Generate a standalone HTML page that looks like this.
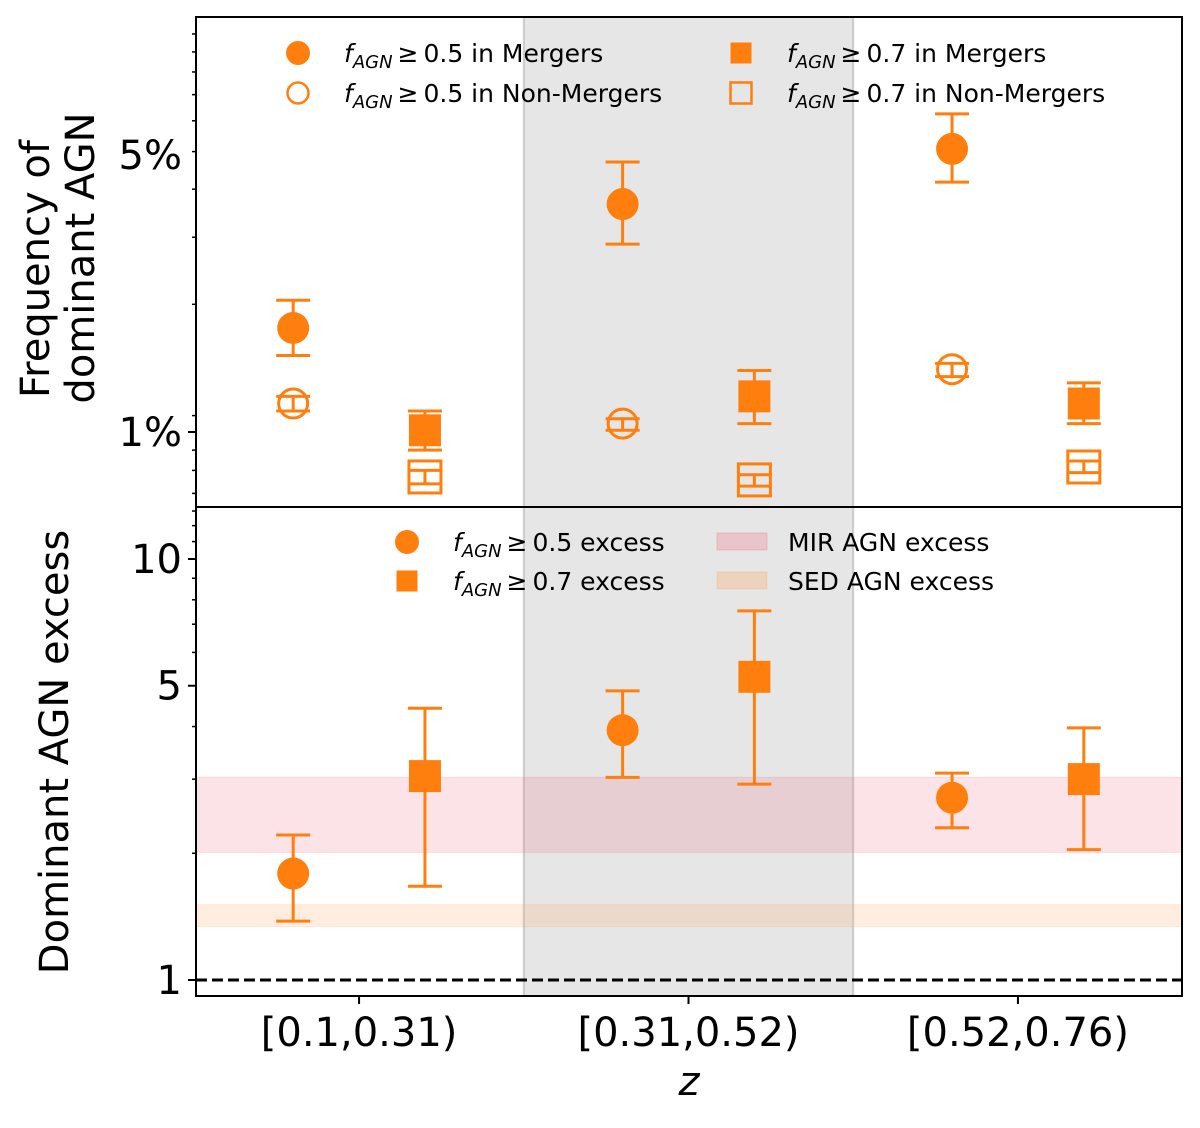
<!DOCTYPE html>
<html><head><meta charset="utf-8"><style>
body{margin:0;background:#fff}
svg{font-family:"DejaVu Sans","Liberation Sans",sans-serif}
</style></head><body>
<svg id="c" width="1200" height="1123" viewBox="0 0 1200 1123"></svg>
<script>
const categories=["[0.1,0.31)","[0.31,0.52)","[0.52,0.76)"];
const mergers05=[1.83,3.76,5.18], mergers05Hi=[2.15,4.80,6.35], mergers05Lo=[1.56,2.98,4.27];
const nonMergers05=[1.18,1.05,1.44], nonMergers05Hi=[1.23,1.08,1.49], nonMergers05Lo=[1.13,1.01,1.38];
const mergers07=[1.01,1.23,1.18], mergers07Hi=[1.13,1.43,1.33], mergers07Lo=[0.90,1.05,1.05];
const nonMergers07=[0.77,0.757,0.816], nonMergers07Hi=[0.80,0.78,0.845], nonMergers07Lo=[0.74,0.73,0.79];
const excess05=[1.79,3.92,2.71], excess05Hi=[2.21,4.86,3.10], excess05Lo=[1.38,3.03,2.30];
const excess07=[3.05,5.25,3.00], excess07Hi=[4.42,7.53,3.97], excess07Lo=[1.67,2.92,2.04];
const mirBand=[2.01,3.03], sedBand=[1.34,1.51];
const topTicks=[1,5], topTickLabels=["1%","5%"];
const botTicks=[1,5,10], botTickLabels=["1","5","10"];

const NS="http://www.w3.org/2000/svg", svg=document.getElementById('c'), C="#ff7f0e";
const L=196,R=1182;
const X=i=>L+(i+0.495)*(R-L)/2.993;
const Ytop=v=>432-Math.log10(v)*396.3;
const Ybot=v=>980-Math.log10(v)*421;
function el(t,a,p){const e=document.createElementNS(NS,t);for(const k in a)e.setAttribute(k,a[k]);(p||svg).appendChild(e);return e;}
const sh=el('rect',{x:X(0.5),y:17,width:X(1.5)-X(0.5),height:979,fill:"rgba(128,128,128,0.2)",stroke:"rgba(128,128,128,0.35)","stroke-width":2});

[[mirBand,"rgba(240,100,120,0.18)","mir-agn-band"],[sedBand,"rgba(255,170,100,0.2)","sed-agn-band"]].forEach(([b,f,n])=>{
 const r=el('rect',{x:L,y:Ybot(b[1]),width:R-L,height:Ybot(b[0])-Ybot(b[1]),fill:f,stroke:f});
 });
const dl=el('line',{x1:L,x2:R,y1:Ybot(1),y2:Ybot(1),stroke:"#000","stroke-width":3,"stroke-dasharray":"11,5"});

function series(vals,hi,lo,Y,off,shape,filled,name){
 vals.forEach((v,i)=>{const x=X(i+off),y=Y(v);const g=el('g',{});
  
  const a=filled?{fill:C}:{fill:"none",stroke:C,"stroke-width":3};
  if(shape==='c')el('circle',Object.assign({cx:x,cy:y,r:filled?16:14.5},a),g);
  else el('rect',Object.assign({x:x-16,y:y-16,width:32,height:32},a),g);
  const a1=Y(lo[i]),a2=Y(hi[i]);
  el('line',{x1:x,x2:x,y1:a1,y2:a2,stroke:C,"stroke-width":3},g);
  [a1,a2].forEach(yy=>el('line',{x1:x-17,x2:x+17,y1:yy,y2:yy,stroke:C,"stroke-width":3},g));
 });}
series(mergers05,mergers05Hi,mergers05Lo,Ytop,-0.2,'c',true,'merger-05');
series(nonMergers05,nonMergers05Hi,nonMergers05Lo,Ytop,-0.2,'c',false,'nonmerger-05');
series(mergers07,mergers07Hi,mergers07Lo,Ytop,0.2,'s',true,'merger-07');
series(nonMergers07,nonMergers07Hi,nonMergers07Lo,Ytop,0.2,'s',false,'nonmerger-07');
series(excess05,excess05Hi,excess05Lo,Ybot,-0.2,'c',true,'excess-05');
series(excess07,excess07Hi,excess07Lo,Ybot,0.2,'s',true,'excess-07');
el('rect',{x:L,y:17,width:R-L,height:490,fill:"none",stroke:"#000","stroke-width":2});
el('rect',{x:L,y:507,width:R-L,height:489,fill:"none",stroke:"#000","stroke-width":2});
function txt(x,y,s,sz,anc,name,extra){const t=el('text',Object.assign({x:x,y:y,"font-size":sz,"text-anchor":anc||"start"},extra||{}));t.innerHTML=s;
 return t;}
for(let v=0.7;v<=11;v+=(v<1?0.1:1)){const vv=Math.round(v*10)/10;const y=Ytop(vv);if(y<17||y>507)continue;
 const maj=topTicks.includes(vv);el('line',{x1:L,x2:L-(maj?8:4),y1:y,y2:y,stroke:"#000","stroke-width":maj?2:1.5});}
topTicks.forEach((v,i)=>txt(L-14,Ytop(v)+14,topTickLabels[i],40,"end",'top-ytick-label'));
for(let v=1;v<=13;v++){const y=Ybot(v);if(y<507)continue;const maj=botTicks.includes(v);
 el('line',{x1:L,x2:L-(maj?8:4),y1:y,y2:y,stroke:"#000","stroke-width":maj?2:1.5});}
botTicks.forEach((v,i)=>txt(L-14,Ybot(v)+14,botTickLabels[i],40,"end",'bottom-ytick-label'));
categories.forEach((c,i)=>{el('line',{x1:X(i),x2:X(i),y1:996,y2:1004,stroke:"#000","stroke-width":2});
 txt(X(i),1046,c,40,"middle",'xtick-label');});
txt(689,1095,"z",40,"middle",'x-axis-title',{"font-style":"italic"});
txt(0,0,"Frequency of",40,"middle",'top-y-title',{transform:"translate(49,269) rotate(-90)"});
txt(0,0,"dominant AGN",40,"middle",'top-y-title-2',{transform:"translate(94,258) rotate(-90)"});
txt(0,0,"Dominant AGN excess",40,"middle",'bottom-y-title',{transform:"translate(68,752) rotate(-90)"});
const f='<tspan font-style="italic">f</tspan><tspan font-style="italic" font-size="18" dy="6">AGN</tspan><tspan dy="-6">';
function legMark(x,y,shape,filled,name){const a=filled?{fill:C}:{fill:"none",stroke:C,"stroke-width":2.5};
 const m=shape==='c'?el('circle',Object.assign({cx:x,cy:y,r:filled?12:10.5},a)):el('rect',Object.assign({x:x-10.5,y:y-10.5,width:21,height:21},a));
 }
legMark(298,53,'c',true,'legend-merger-05');txt(344,62,f+'\u2009≥\u20090.5 in Mergers</tspan>',25,"start",'legend-label');
legMark(298,93,'c',false,'legend-nonmerger-05');txt(344,102,f+'\u2009≥\u20090.5 in Non-Mergers</tspan>',25,"start",'legend-label');
legMark(741,53,'s',true,'legend-merger-07');txt(787,62,f+'\u2009≥\u20090.7 in Mergers</tspan>',25,"start",'legend-label');
legMark(741,93,'s',false,'legend-nonmerger-07');txt(787,102,f+'\u2009≥\u20090.7 in Non-Mergers</tspan>',25,"start",'legend-label');
legMark(407,542,'c',true,'legend-excess-05');txt(453,551,f+'\u2009≥\u20090.5 excess</tspan>',25,"start",'legend-label');
legMark(407,581,'s',true,'legend-excess-07');txt(453,590,f+'\u2009≥\u20090.7 excess</tspan>',25,"start",'legend-label');
el('rect',{x:717,y:533,width:50,height:17,fill:"rgba(240,100,120,0.25)",stroke:"rgba(240,100,120,0.3)"});
txt(788,551,"MIR AGN excess",25,"start",'legend-label');
el('rect',{x:717,y:572,width:50,height:17,fill:"rgba(255,170,100,0.3)",stroke:"rgba(255,170,100,0.35)"});
txt(788,590,"SED AGN excess",25,"start",'legend-label');
</script>
</body></html>
